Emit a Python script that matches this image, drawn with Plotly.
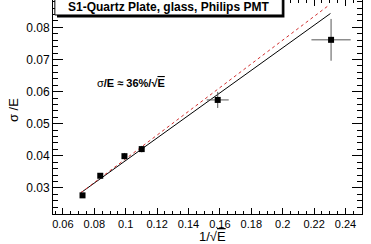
import plotly.graph_objects as go

# data
inv_sqrt_e = [0.0725, 0.0838, 0.0992, 0.1102, 0.1586, 0.2308]
sigma_over_e = [0.0277, 0.0338, 0.0399, 0.0421, 0.0574, 0.0761]
x_err = [0.0006, 0.0006, 0.0006, 0.0010, 0.0070, 0.0125]
y_err = [0.0004, 0.0005, 0.0010, 0.0010, 0.0025, 0.0065]

fit_x = [0.0714, 0.2304]
fit_black = [0.0285, 0.0843]
fit_red_x = [0.0714, 0.2284]
fit_red = [0.0285, 0.0865]

title_text = "S1-Quartz Plate, glass, Philips PMT"
fit_label = "σ<b>/E ≈ 36%/√<span style='text-decoration:overline'>E</span></b>"

FONT = "Liberation Sans, Arial, sans-serif"

fig = go.Figure()
fig.add_trace(go.Scatter(x=fit_x, y=fit_black, mode="lines",
                         line=dict(color="black", width=1), showlegend=False))
fig.add_trace(go.Scatter(x=fit_red_x, y=fit_red, mode="lines",
                         line=dict(color="#d03030", width=1, dash="dot"), showlegend=False))
fig.add_trace(go.Scatter(
    x=inv_sqrt_e, y=sigma_over_e, mode="markers",
    marker=dict(symbol="square", size=6, color="black"),
    error_x=dict(type="data", array=x_err, color="#555555", thickness=1, width=0),
    error_y=dict(type="data", array=y_err, color="#555555", thickness=1, width=0),
    showlegend=False))

axis_common = dict(showgrid=False, zeroline=False, showline=True, linecolor="black",
                   linewidth=1, mirror="allticks", ticks="inside", tickcolor="black",
                   automargin=False, tickfont=dict(family=FONT, color="black"))

fig.update_xaxes(range=[0.0537, 0.2505], tickvals=[0.06,0.08,0.1,0.12,0.14,0.16,0.18,0.2,0.22,0.24],
                 ticktext=["0.06","0.08","0.1","0.12","0.14","0.16","0.18","0.2","0.22","0.24"],
                 ticklen=6, minor=dict(dtick=0.005, tick0=0.0, ticklen=3, ticks="inside", tickcolor="black"),
                 **axis_common)
fig.update_layout(xaxis_tickfont_size=11)
fig.update_yaxes(range=[0.0219, 0.0885], tickvals=[0.03,0.04,0.05,0.06,0.07,0.08],
                 ticktext=["0.03","0.04","0.05","0.06","0.07","0.08"],
                 ticklen=10, minor=dict(dtick=0.002, tick0=0.0, ticklen=5, ticks="inside", tickcolor="black"),
                 **axis_common)
fig.update_layout(yaxis_tickfont_size=12)

# title box with shadow
fig.add_shape(type="rect", xref="paper", yref="paper", x0=0.013, x1=0.749, y0=0.918, y1=1.02,
              fillcolor="black", line=dict(width=0), layer="above")
fig.add_shape(type="rect", xref="paper", yref="paper", x0=0.006, x1=0.742, y0=0.93, y1=1.02,
              fillcolor="white", line=dict(color="black", width=1), layer="above")
fig.add_annotation(xref="paper", yref="paper", x=0.374, y=0.967, text="<b>" + title_text + "</b>",
                   showarrow=False, font=dict(family=FONT, size=12, color="black"),
                   xanchor="center", yanchor="middle")

fig.add_annotation(xref="x", yref="y", x=0.1034, y=0.0628, text=fit_label, showarrow=False,
                   font=dict(family=FONT, size=11, color="black"), xanchor="center", yanchor="middle")

fig.add_annotation(xref="paper", yref="paper", x=0.515, y=-0.105, text="1/√<span style='text-decoration:overline'>E</span>",
                   showarrow=False, font=dict(family=FONT, size=13, color="black"),
                   xanchor="center", yanchor="middle")
fig.add_annotation(xref="paper", yref="paper", x=-0.13, y=0.485, text="σ /E", textangle=-90,
                   showarrow=False, font=dict(family=FONT, size=13, color="black"),
                   xanchor="center", yanchor="middle")

fig.update_layout(width=371, height=244, margin=dict(l=53, r=9, t=0, b=30, autoexpand=False),
                  paper_bgcolor="white", plot_bgcolor="white",
                  font=dict(family=FONT, color="black"))

fig.write_html("out.html", config={"displayModeBar": False},
               post_script="document.body.style.margin='0';document.body.style.overflow='hidden';")
